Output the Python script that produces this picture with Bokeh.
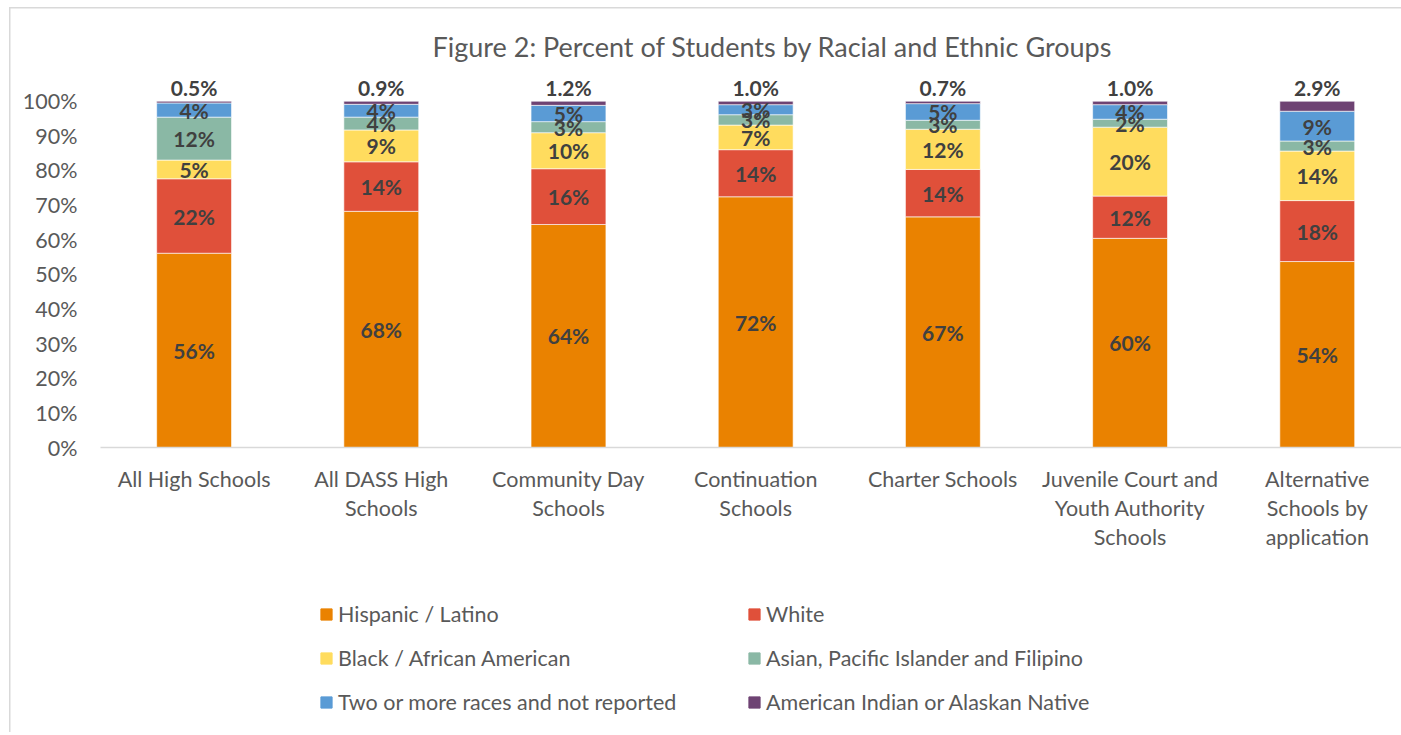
from bokeh.plotting import figure
from bokeh.layouts import column
from bokeh.models import ColumnDataSource, Range1d, FixedTicker, Legend, LegendItem, PrintfTickFormatter
from bokeh.core.properties import value
from bokeh.embed import file_html
from bokeh.resources import INLINE

categories = ["All High Schools", "All DASS High\nSchools", "Community Day\nSchools",
              "Continuation\nSchools", "Charter Schools",
              "Juvenile Court and\nYouth Authority\nSchools",
              "Alternative\nSchools by\napplication"]
series_names = ["Hispanic / Latino", "White", "Black / African American",
                "Asian, Pacific Islander and Filipino",
                "Two or more races and not reported",
                "American Indian or Alaskan Native"]
hispanic = [56.1, 68.2, 64.4, 72.4, 66.6, 60.4, 53.7]
white = [21.5, 14.3, 16.1, 13.6, 13.7, 12.2, 17.6]
black = [5.4, 9.2, 10.4, 7.1, 11.6, 19.9, 14.3]
asian = [12.4, 3.7, 3.2, 3.0, 2.6, 2.3, 2.9]
multi = [4.1, 3.7, 4.7, 2.9, 4.8, 4.2, 8.6]
native = [0.5, 0.9, 1.2, 1.0, 0.7, 1.0, 2.9]
y_ticks = [0, 10, 20, 30, 40, 50, 60, 70, 80, 90, 100]

colors = ["#EA8200", "#E0503A", "#FFDC5E", "#8AB8A5", "#5A9BD5", "#6E4373"]
series = [hispanic, white, black, asian, multi, native]
keys = ["s0", "s1", "s2", "s3", "s4", "s5"]

FONT = "Lato"
GREY = "#595959"

n = len(categories)
data = {"x": list(range(n))}
for k, s in zip(keys, series):
    data[k] = s
cum = [0.0] * n
for i, (k, s) in enumerate(zip(keys, series)):
    mids = [c + v / 2 for c, v in zip(cum, s)]
    cum = [c + v for c, v in zip(cum, s)]
    data["mid" + k] = mids
    data["top" + k] = list(cum)
    if i == len(series) - 1:
        data["lab" + k] = [f"{v:.1f}%" for v in s]
    else:
        data["lab" + k] = [f"{v:.0f}%" for v in s]
source = ColumnDataSource(data)

p = figure(width=1401, height=560, output_backend="svg", toolbar_location=None,
           x_range=Range1d(-0.5, 6.45), y_range=Range1d(0, 108),
           min_border_left=100, min_border_right=0, min_border_top=73,
           min_border_bottom=113)
p.outline_line_color = None
p.border_fill_color = None
p.background_fill_color = None
p.xgrid.grid_line_color = None
p.ygrid.grid_line_color = None

p.title.text = "Figure 2: Percent of Students by Racial and Ethnic Groups"
p.title.text_font = FONT
p.title.text_font_size = "27px"
p.title.text_font_style = "normal"
p.title.text_color = GREY
p.title.align = "left"
p.title.offset = 332
p.title.standoff = 21

renderers = p.vbar_stack(keys, x="x", width=0.4, color=colors, source=source,
                         line_color="white", line_width=0.6)

for i, k in enumerate(keys):
    if i == len(keys) - 1:
        p.text(x="x", y="top" + k, text="lab" + k, source=source,
               text_align="center", text_baseline="bottom", y_offset=-1,
               text_font=value(FONT), text_font_size="21px", text_font_style="bold",
               text_color="#404040")
    else:
        p.text(x="x", y="mid" + k, text="lab" + k, source=source,
               text_align="center", text_baseline="middle",
               text_font=value(FONT), text_font_size="21px", text_font_style="bold",
               text_color="#404040")

p.xaxis.ticker = FixedTicker(ticks=list(range(n)))
p.xaxis.major_label_overrides = {i: c for i, c in enumerate(categories)}
p.xaxis.axis_line_color = "#D9D9D9"
p.xaxis.axis_line_width = 1.5
p.xaxis.major_tick_line_color = None
p.xaxis.minor_tick_line_color = None
p.xaxis.major_label_text_font = FONT
p.xaxis.major_label_text_font_size = "21.5px"
p.xaxis.major_label_text_color = GREY
p.xaxis.major_label_text_line_height = 1.12
p.xaxis.major_label_standoff = 12

p.yaxis.ticker = FixedTicker(ticks=y_ticks)
p.yaxis.formatter = PrintfTickFormatter(format="%d%%")
p.yaxis.axis_line_color = None
p.yaxis.major_tick_line_color = None
p.yaxis.minor_tick_line_color = None
p.yaxis.major_label_text_font = FONT
p.yaxis.major_label_text_font_size = "21.5px"
p.yaxis.major_label_text_color = GREY
p.yaxis.major_label_standoff = 17

# legend panel: a second figure whose own renderers sit outside its visible range
p2 = figure(width=1401, height=172, output_backend="svg", toolbar_location=None,
            x_axis_type=None, y_axis_type=None, min_border=0,
            x_range=Range1d(-0.5, 6.45), y_range=Range1d(1000, 1001))
p2.outline_line_color = None
p2.border_fill_color = None
p2.background_fill_color = None
p2.xgrid.grid_line_color = None
p2.ygrid.grid_line_color = None
leg_renderers = [p2.vbar(x="x", top=k, width=0.4, color=c, source=source)
                 for k, c in zip(keys, colors)]

legend = Legend(items=[LegendItem(label=nm, renderers=[r]) for nm, r in zip(series_names, leg_renderers)],
                orientation="horizontal", ncols=2, location=(219, 15),
                glyph_width=14, glyph_height=14, label_standoff=5,
                label_width=395, label_height=30, spacing=14, padding=10,
                label_text_font=FONT, label_text_font_size="21.5px", label_text_color=GREY,
                border_line_color=None, background_fill_alpha=0, margin=0)
p2.add_layout(legend, "center")

lay = column(p, p2, spacing=0)
lay.styles = {
    "background": "linear-gradient(#D9D9D9,#D9D9D9) 9px 7px / 1.5px 100% no-repeat, "
                  "linear-gradient(#D9D9D9,#D9D9D9) 9px 7px / 100% 1.5px no-repeat, white"
}

open("out.html", "w").write(file_html(lay, INLINE))
